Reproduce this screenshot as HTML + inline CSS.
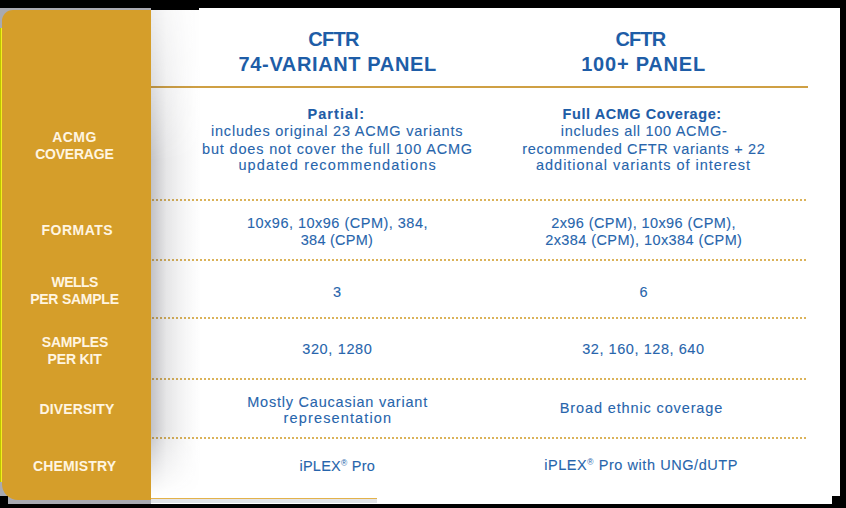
<!DOCTYPE html><html><head><meta charset='utf-8'><style>
*{margin:0;padding:0;box-sizing:border-box}
html,body{width:846px;height:508px;overflow:hidden;background:#000}
body{position:relative;font-family:"Liberation Sans",sans-serif}
.a{position:absolute}
.t{position:absolute;white-space:pre;line-height:1}
.hd{color:#1e5da7;font-weight:bold}
.lb{color:#fff5e1;font-weight:bold}
.bd{color:#2765ac;-webkit-text-stroke:0.1px #2765ac}
.t b{font-weight:bold}
sup{font-size:0.58em;vertical-align:0;position:relative;top:-0.58em;line-height:0;-webkit-text-stroke:0}
.dot{position:absolute;left:151px;width:655px;height:2px;
background-image:linear-gradient(to right,#dbb35a 0,#dbb35a 2px,transparent 2px);background-size:4px 2px;background-position:1px 0}
</style></head><body>
<div class='a' style='left:0;top:8px;width:151px;height:488px;background:#a9aab1'></div>
<div class='a' style='left:8px;top:496px;width:143px;height:8px;background:#a9aab1'></div>
<div class='a' style='left:199px;top:8px;width:641px;height:488px;background:#fff'></div>
<div class='a' style='left:151px;top:10px;width:48px;height:486px;background:#fff'></div>
<div class='a' style='left:151px;top:496px;width:681px;height:8px;background:#fff'></div>
<div class='a' style='left:151px;top:498px;width:226px;height:1px;background:#e3b24a'></div>
<div class='a' style='left:151px;top:499px;width:226px;height:4px;background:#e2e4e7'></div>
<div class='a' style='left:2px;top:10px;width:149px;height:490px;background:#d59e2a;border-radius:11px 0 0 16px'></div>
<div class='a' style='left:0;top:28px;width:1px;height:454px;background:#bcc400'></div>
<div class='a' style='left:1px;top:28px;width:1px;height:454px;background:#f4ee1e'></div>
<div class='a' style='left:151px;top:86px;width:657px;height:2px;background:#cfa044'></div>
<div class='dot' style='top:199px'></div>
<div class='dot' style='top:259px'></div>
<div class='dot' style='top:317px'></div>
<div class='dot' style='top:378px'></div>
<div class='dot' style='top:437px'></div>
<div class='a' style='left:151px;top:10px;width:50px;height:488px;background:linear-gradient(to right,rgba(55,55,65,0.3),rgba(55,55,65,0.25) 5px,rgba(55,55,65,0.13) 15px,rgba(55,55,65,0.05) 32px,rgba(55,55,65,0) 50px);-webkit-mask-image:linear-gradient(to bottom,rgba(0,0,0,0.3) 0,rgba(0,0,0,0.55) 70px,#000 150px,#000 420px,rgba(0,0,0,0) 486px);'></div>
<div class='t hd' style='left:308.2px;top:29px;font-size:20px;letter-spacing:-0.667px;'>CFTR</div>
<div class='t hd' style='left:238.6px;top:54px;font-size:20px;letter-spacing:0.626px;'>74-VARIANT PANEL</div>
<div class='t hd' style='left:615.4px;top:29px;font-size:20px;letter-spacing:-0.866px;'>CFTR</div>
<div class='t hd' style='left:581.2px;top:54px;font-size:20px;letter-spacing:0.778px;'>100+ PANEL</div>
<div class='t lb' style='left:52.2px;top:130px;font-size:14px;letter-spacing:0.467px;'>ACMG</div>
<div class='t lb' style='left:35.2px;top:147px;font-size:14px;letter-spacing:-0.228px;'>COVERAGE</div>
<div class='t lb' style='left:41.6px;top:223px;font-size:14px;letter-spacing:0.466px;'>FORMATS</div>
<div class='t lb' style='left:51.6px;top:275px;font-size:14px;letter-spacing:-0.55px;'>WELLS</div>
<div class='t lb' style='left:30.2px;top:292px;font-size:14px;letter-spacing:-0.245px;'>PER SAMPLE</div>
<div class='t lb' style='left:41.8px;top:335px;font-size:14px;letter-spacing:-0.2px;'>SAMPLES</div>
<div class='t lb' style='left:47.6px;top:352px;font-size:14px;letter-spacing:-0.166px;'>PER KIT</div>
<div class='t lb' style='left:39.6px;top:402px;font-size:14px;letter-spacing:0.1px;'>DIVERSITY</div>
<div class='t lb' style='left:33.0px;top:459px;font-size:14px;letter-spacing:0.15px;'>CHEMISTRY</div>
<div class='t bd' style='left:307.4px;top:107px;font-size:14.5px;letter-spacing:1.087px;font-weight:bold;color:#1e5da7;-webkit-text-stroke:0.1px #1e5da7;'>Partial:</div>
<div class='t bd' style='left:211.0px;top:124px;font-size:14.5px;letter-spacing:0.782px;'>includes original 23 ACMG variants</div>
<div class='t bd' style='left:202.0px;top:142px;font-size:14.5px;letter-spacing:0.833px;'>but does not cover the full 100 ACMG</div>
<div class='t bd' style='left:238.4px;top:158px;font-size:14.5px;letter-spacing:1.164px;'>updated recommendations</div>
<div class='t bd' style='left:562.6px;top:107px;font-size:14.5px;letter-spacing:0.556px;font-weight:bold;color:#1e5da7;-webkit-text-stroke:0.1px #1e5da7;'>Full ACMG Coverage:</div>
<div class='t bd' style='left:560.8px;top:124px;font-size:14.5px;letter-spacing:0.686px;'>includes all 100 ACMG-</div>
<div class='t bd' style='left:522.2px;top:142px;font-size:14.5px;letter-spacing:0.683px;'>recommended CFTR variants + 22</div>
<div class='t bd' style='left:536.0px;top:158px;font-size:14.5px;letter-spacing:0.981px;'>additional variants of interest</div>
<div class='t bd' style='left:247.0px;top:216px;font-size:14.5px;letter-spacing:0.488px;'>10x96, 10x96 (CPM), 384,</div>
<div class='t bd' style='left:300.8px;top:233px;font-size:14.5px;letter-spacing:0.252px;'>384 (CPM)</div>
<div class='t bd' style='left:551.2px;top:216px;font-size:14.5px;letter-spacing:0.41px;'>2x96 (CPM), 10x96 (CPM),</div>
<div class='t bd' style='left:545.2px;top:233px;font-size:14.5px;letter-spacing:0.409px;'>2x384 (CPM), 10x384 (CPM)</div>
<div class='t bd' style='left:333.0px;top:285px;font-size:14.5px;letter-spacing:0.0px;'>3</div>
<div class='t bd' style='left:639.6px;top:285px;font-size:14.5px;letter-spacing:0.0px;'>6</div>
<div class='t bd' style='left:302.2px;top:342px;font-size:14.5px;letter-spacing:0.65px;'>320, 1280</div>
<div class='t bd' style='left:582.2px;top:342px;font-size:14.5px;letter-spacing:0.562px;'>32, 160, 128, 640</div>
<div class='t bd' style='left:247.2px;top:395px;font-size:14.5px;letter-spacing:0.782px;'>Mostly Caucasian variant</div>
<div class='t bd' style='left:283.6px;top:411px;font-size:14.5px;letter-spacing:1.139px;'>representation</div>
<div class='t bd' style='left:559.8px;top:401px;font-size:14.5px;letter-spacing:0.87px;'>Broad ethnic coverage</div>
<div class='t bd' style='left:299.4px;top:459px;font-size:14.5px;letter-spacing:0.268px;'>iPLEX<sup>&reg;</sup> Pro</div>
<div class='t bd' style='left:544.2px;top:458px;font-size:14.5px;letter-spacing:0.565px;'>iPLEX<sup>&reg;</sup> Pro with UNG/dUTP</div>
</body></html>
